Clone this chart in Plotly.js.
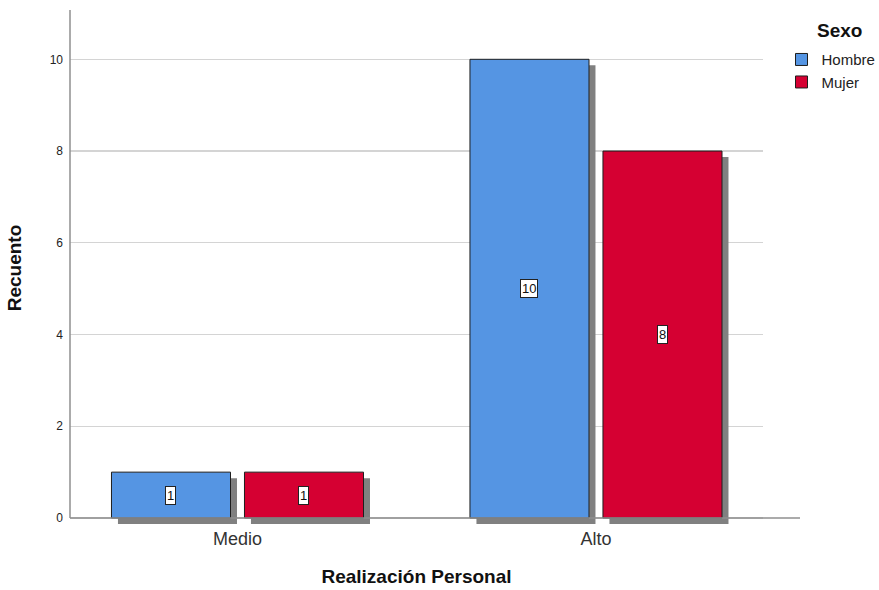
<!DOCTYPE html>
<html>
<head>
<meta charset="utf-8">
<script src="https://cdn.plot.ly/plotly-3.0.1.min.js"></script>
<style>html,body{margin:0;padding:0;background:#fff;}#chart{width:879px;height:590px;}</style>
</head>
<body>
<div id="chart"></div>
<script>
// ---- data ----
const categories = ["Medio", "Alto"];
const seriesNames = ["Hombre", "Mujer"];
const hombre = [1, 10];
const mujer = [1, 8];
const yTicks = [0, 2, 4, 6, 8, 10];
const colors = ["#5595E3", "#D50032"];
const legendTitle = "Sexo";

// ---- layout constants ----
const X_RANGE = [-0.4672, 1.4659];
const Y_RANGE = [-0.1744, 11.075];
const SHADOW_DX = 0.0181;   // ~6.5 px
const SHADOW_DY = 0.131;    // ~6 px
const BARGAP = 0.258, BARGROUPGAP = 0.105;
const Y0_PAPER = (0 - Y_RANGE[0]) / (Y_RANGE[1] - Y_RANGE[0]);

const values = [hombre, mujer];
const traces = [];
// shadows on base axes (drawn first, underneath)
values.forEach((v, i) => {
  traces.push({
    type: "bar", x: categories, y: v, xaxis: "x", yaxis: "y",
    marker: {color: "#808080", line: {width: 0}},
    showlegend: false, hoverinfo: "skip"
  });
});
// main bars on overlay axes
values.forEach((v, i) => {
  traces.push({
    type: "bar", x: categories, y: v, xaxis: "x2", yaxis: "y2",
    name: seriesNames[i],
    marker: {color: colors[i], line: {color: "#1e1e1e", width: 1}}
  });
});

// value labels (boxes) centred in bars
const slot = (1 - BARGAP) / seriesNames.length;
const annotations = [];
values.forEach((v, i) => {
  v.forEach((val, j) => {
    annotations.push({
      xref: "x2", yref: "y2",
      x: j + (i - (seriesNames.length - 1) / 2) * slot,
      y: val / 2,
      text: String(val), showarrow: false,
      font: {family: "Arial, Liberation Sans, sans-serif", size: 13, color: "#111"},
      bgcolor: "#ffffff", bordercolor: "#222", borderwidth: 1, borderpad: 1
    });
  });
});
// legend title
annotations.push({
  xref: "paper", yref: "paper", x: 1.111, y: 0.9612, xanchor: "center", yanchor: "middle",
  text: "<b>" + legendTitle + "</b>", showarrow: false,
  font: {size: 19, color: "#111"}
});

const layout = {
  width: 879, height: 590,
  margin: {l: 70, r: 116, t: 10, b: 64, autoexpand: false},
  paper_bgcolor: "#fff", plot_bgcolor: "rgba(0,0,0,0)",
  barmode: "group", bargap: BARGAP, bargroupgap: BARGROUPGAP,
  font: {family: "Arial, Liberation Sans, sans-serif", color: "#222"},
  xaxis: {
    type: "category", categoryarray: categories,
    range: [X_RANGE[0] - SHADOW_DX, X_RANGE[1] - SHADOW_DX],
    showticklabels: false, showgrid: false, zeroline: false, showline: false, ticks: ""
  },
  yaxis: {
    range: [Y_RANGE[0] + SHADOW_DY, Y_RANGE[1] + SHADOW_DY],
    showticklabels: false, showgrid: false, zeroline: false, showline: false, ticks: ""
  },
  xaxis2: {
    type: "category", categoryarray: categories, overlaying: "x", anchor: "y2",
    range: X_RANGE, showgrid: false, zeroline: false, showline: false, ticks: "",
    tickfont: {size: 18, color: "#333"}, ticklabelstandoff: 0,
    title: {text: "<b>Realización Personal</b>", font: {size: 19, color: "#111"}, standoff: 21}
  },
  yaxis2: {
    overlaying: "y", anchor: "x2", side: "left",
    range: Y_RANGE, tickvals: yTicks, ticks: "",
    showgrid: true, gridcolor: "#d4d4d4", gridwidth: 1.3,
    zeroline: false, showline: false,
    tickfont: {size: 12, color: "#222"}, ticklabelstandoff: 6,
    title: {text: "<b>Recuento</b>", font: {size: 19, color: "#111"}, standoff: 22}
  },
  shapes: [
    {type: "line", layer: "above", xref: "paper", yref: "paper", x0: 0, x1: 1.0534, y0: Y0_PAPER, y1: Y0_PAPER,
     line: {color: "#8f8f8f", width: 1.5}},
    {type: "line", layer: "above", xref: "paper", yref: "paper", x0: 0, x1: 0, y0: Y0_PAPER, y1: 1,
     line: {color: "#8f8f8f", width: 1.5}}
  ],
  annotations: annotations,
  legend: {
    x: 1.0267, y: 0.9356, xanchor: "left", yanchor: "top",
    bgcolor: "rgba(0,0,0,0)", tracegroupgap: 0, itemwidth: 30,
    font: {size: 15, color: "#222"}
  },
  showlegend: true
};

Plotly.newPlot("chart", traces, layout, {staticPlot: true, displayModeBar: false});
</script>
</body>
</html>
